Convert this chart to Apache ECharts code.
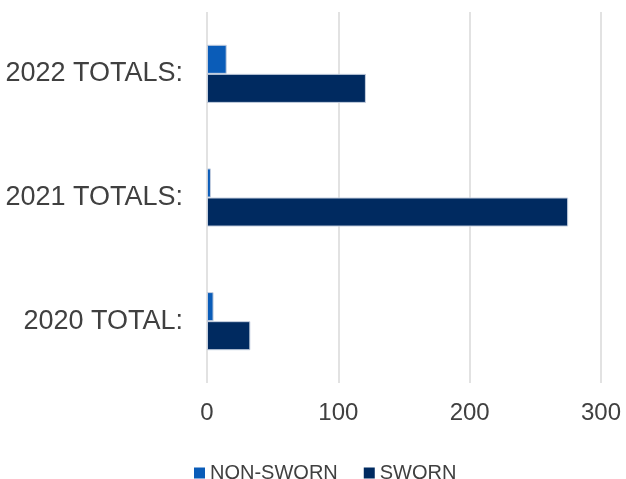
<!DOCTYPE html>
<html>
<head>
<meta charset="utf-8">
<script src="https://cdn.jsdelivr.net/npm/echarts@6/dist/echarts.min.js"></script>
<style>
  html, body { margin: 0; padding: 0; background: #fff; }
  #chart { width: 626px; height: 479px; }
</style>
</head>
<body>
<div id="chart"></div>
<script>
// categories bottom -> top
var categories = ['2020 TOTAL:', '2021 TOTALS:', '2022 TOTALS:'];
var nonSworn = [5, 3, 15];
var sworn = [33, 275, 121];
var xTicks = [0, 100, 200, 300];

var barBorder = {
  borderColor: '#c5cfdf',
  borderWidth: 1
};

var option = {
  backgroundColor: '#fff',
  animation: false,
  textStyle: { fontFamily: 'Liberation Sans, Arial, sans-serif' },
  grid: { left: 207, right: 25, top: 12, bottom: 96 },
  legend: {
    top: 458,
    left: 189,
    itemWidth: 11,
    itemHeight: 11,
    itemGap: 26,
    icon: 'rect',
    itemStyle: { borderWidth: 0 },
    textStyle: { color: '#404040', fontSize: 20 },
    data: ['NON-SWORN', 'SWORN']
  },
  xAxis: {
    type: 'value',
    min: xTicks[0],
    max: xTicks[xTicks.length - 1],
    interval: 100,
    axisLine: { show: false },
    axisTick: { show: false },
    axisLabel: { color: '#404040', fontSize: 24, margin: 18 },
    splitLine: { lineStyle: { color: '#d9d9d9', width: 1.5 } }
  },
  yAxis: {
    type: 'category',
    data: categories,
    axisLine: { show: false },
    axisTick: { show: false },
    axisLabel: { color: '#404040', fontSize: 27, margin: 24 }
  },
  series: [
    {
      name: 'NON-SWORN',
      type: 'bar',
      data: nonSworn,
      barGap: '0%',
      barCategoryGap: '53%',
      itemStyle: Object.assign({ color: '#0a5cb8' }, barBorder)
    },
    {
      name: 'SWORN',
      type: 'bar',
      data: sworn,
      barGap: '0%',
      barCategoryGap: '53%',
      itemStyle: Object.assign({ color: '#002a60' }, barBorder)
    }
  ]
};

var myChart = echarts.init(document.getElementById('chart'));
myChart.setOption(option);
</script>
</body>
</html>
